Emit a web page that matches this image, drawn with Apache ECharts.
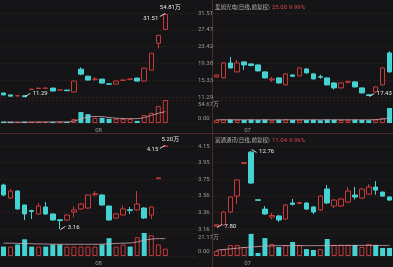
<!DOCTYPE html>
<html><head><meta charset="utf-8">
<script src="https://cdn.jsdelivr.net/npm/echarts@6/dist/echarts.min.js"></script>
<style>html,body{margin:0;padding:0;background:#151517;}#c{width:393px;height:267px;}</style>
</head><body><div id="c"></div>
<script>
// ---------- data ----------
const tlCats = ['','','','','','','','','','','','','','','08','','','','','','','','','','','','',''];
const trCats = ['','','','','','07','','','','','','','','','','','','','','','','','','','',''];
const blCats = ['','','','','','','','','','','','','','','08','','','','','','','','','','','','',''];
const brCats = ['','','','','','07','','','','','','','','','','','','','','','','','','','',''];

const tlTicks = ['11.29','15.33','19.38','23.42','27.47','31.51'];
const tlVolTicks = ['0.00','54.67万'];
const blTicks = ['3.16','3.36','3.56','3.75','3.95','4.15'];
const blVolTicks = ['0.00','21.17万'];

const trTitle = '爱旭光电(日线,前复权)', trPrice = '25.00', trPct = '9.99%';
const brTitle = '富通通讯(日线,前复权)', brPrice = '11.04', brPct = '9.96%';
const tlTopNote = '54.81万', blTopNote = '5.20万';

// [open, close, low, high]
const tlK = [
 [12.25,11.80,11.75,12.30],[11.80,11.50,11.45,11.85],[11.55,11.60,11.50,11.65],[11.60,11.35,11.29,11.65],
 [13.10,13.18,13.05,13.25],[13.35,13.42,13.30,13.50],[13.38,13.45,13.30,13.52],[13.44,12.72,12.70,13.48],
 [12.95,13.00,12.90,13.05],[12.96,12.80,12.75,13.00],[12.49,15.12,12.45,15.20],[17.99,16.79,16.55,18.40],
 [16.31,15.36,15.30,16.40],[15.55,15.62,15.12,16.08],[15.60,14.64,14.55,15.65],[14.45,14.38,14.30,14.50],
 [14.40,15.12,14.35,15.20],[15.30,15.38,15.25,15.45],[15.55,15.62,15.50,15.68],[15.84,15.12,15.10,15.90],
 [15.12,18.23,15.05,18.30],[17.75,21.82,17.70,21.90],[24.21,26.13,23.02,26.20],[27.56,31.15,27.50,31.51]
];
const tlVol = [3.5,3,2.5,3,2.5,3,3,2.5,3,2.5,9.5,26,21,12,12,10,10,10,10,5,19,24,40,54.67];
const tlVolMA = [2,2,2,2,2.2,2.3,2.4,2.5,2.5,2.6,4.8,9.5,14.3,15.5,15,13,11.5,10.5,10.2,10.5,13,18,23,27];

const trK = [
 [21.72,22.17,21.60,22.30],[21.50,24.87,21.40,25.00],[24.87,23.74,23.60,26.22],[22.85,24.87,22.70,25.54],
 [25.09,24.42,23.29,25.20],[24.64,24.30,24.10,24.75],[24.42,23.07,22.95,24.50],[22.85,21.50,21.40,22.95],
 [21.05,21.27,20.60,21.72],[21.50,20.37,20.20,21.60],[19.92,22.40,19.80,22.50],[22.17,21.85,21.75,22.25],
 [21.95,23.74,21.85,23.85],[23.52,22.62,22.50,23.65],[22.40,21.27,21.15,22.50],[21.78,21.66,21.30,22.20],
 [21.50,19.92,19.80,21.60],[20.37,19.25,18.90,20.50],[19.25,20.37,19.10,20.50],[20.55,20.65,20.30,20.90],
 [20.60,19.47,19.35,20.70],[19.25,18.12,18.00,19.35],[17.70,17.55,17.43,17.80],[18.35,19.47,18.20,19.60],
 [19.92,23.74,19.80,23.90],[27.12,22.85,22.70,27.50]
];
const trVol = [14,16,15,14,13,14,13,15,12,14,16,13,14,13,14,12,15,14,13,12,14,13,12,15,22,65];
const trVolMA = [14,14,14,14,14,14,14,14,14,14,14,14,14,14,14,14,14,14,14,14,14,14,14,15,17,22];

const blK = [
 [3.685,3.566,3.55,3.70],[3.530,3.613,3.52,3.637],[3.613,3.399,3.39,3.62],[3.446,3.339,3.267,3.45],
 [3.38,3.37,3.28,3.39],[3.339,3.434,3.33,3.470],[3.422,3.339,3.33,3.482],[3.339,3.267,3.26,3.345],
 [3.27,3.26,3.16,3.275],[3.267,3.327,3.26,3.335],[3.363,3.387,3.30,3.43],[3.399,3.458,3.39,3.47],
 [3.410,3.566,3.40,3.575],[3.57,3.58,3.55,3.613],[3.566,3.446,3.44,3.575],[3.434,3.267,3.26,3.44],
 [3.291,3.339,3.28,3.35],[3.327,3.399,3.32,3.44],[3.39,3.38,3.339,3.422],[3.387,3.458,3.38,3.613],
 [3.410,3.291,3.28,3.42],[3.327,3.422,3.279,3.43],[3.76,3.77,3.76,3.77],[4.145,4.15,4.145,4.15]
];
const blVol = [8.66,8.66,10.6,15.4,8.66,8.66,8.66,10.6,10.6,8.66,8.66,8.66,8.66,8.66,10.6,16.4,8.66,10.6,8.66,17.3,21.17,19.2,10.6,6.7];
const blVolMA = [11.8,11.8,11.6,11.5,11.3,11.1,11,10.9,10.8,10.8,10.8,10.8,10.8,10.8,10.9,11.2,11.5,11.8,12,13,14.5,15.5,16,16];

const brK = [
 [7.85,7.95,7.80,8.00],[7.93,8.78,7.90,8.85],[8.78,9.76,8.70,9.82],[9.82,10.87,9.30,10.90],
 [11.95,12.00,11.93,12.02],[12.69,10.67,10.60,12.76],[9.58,9.54,9.53,9.59],[8.97,8.65,8.60,9.17],
 [8.45,8.55,8.30,8.72],[8.52,8.26,8.13,8.60],[8.32,9.24,8.28,9.30],[9.37,9.28,9.20,9.63],
 [9.34,9.40,9.30,9.45],[9.37,8.97,8.92,9.40],[9.11,8.78,8.65,9.15],[8.91,9.82,8.85,9.88],
 [10.28,9.37,9.30,10.54],[9.17,9.56,9.04,9.62],[9.17,9.63,9.10,9.70],[9.43,10.15,9.40,10.41],
 [9.89,9.76,9.60,10.41],[9.69,10.28,9.65,10.33],[9.95,10.41,9.90,10.60],[10.41,10.21,9.90,10.80],
 [10.08,9.82,9.78,10.12],[9.76,9.56,9.50,9.80]
];
const brVol = [22,30,48,48,39,96,13,78,52,39,48,61,48,30,26,30,74,48,48,48,48,39,52,48,35,35];
const brVolMA = [25,28,31,34,37,39,41,43,44,45,45,45,45,45,45,45,46,46,46,46,46,46,46,46,46,46];

// ---------- style ----------
const BG = '#151517', RED = '#c93b3b', CYAN = '#45d2d2', GRID = 'rgba(150,70,60,0.35)';
const LBL = '#9a9a9a', FONT = "Roboto, 'Noto Sans CJK SC', sans-serif";
const CJK = "'Noto Sans CJK SC', sans-serif";

const panels = [
 {cats: tlCats, k: tlK, vol: tlVol, ma: tlVolMA, left: 0, width: 197, top: 13, h: 84, vtop: 100, vh: 23, pmin: 11.29, pmax: 31.51, vmax: 54.67, ticks: tlTicks, vticks: tlVolTicks},
 {cats: trCats, k: trK, vol: trVol, ma: trVolMA, left: 213, width: 182, top: 13, h: 84, vtop: 100, vh: 23, pmin: 17.2, pmax: 36.1, vmax: 100},
 {cats: blCats, k: blK, vol: blVol, ma: blVolMA, left: 0, width: 197, top: 146, h: 83, vtop: 233, vh: 23, pmin: 3.16, pmax: 4.15, vmax: 21.17, ticks: blTicks, vticks: blVolTicks},
 {cats: brCats, k: brK, vol: brVol, ma: brVolMA, left: 213, width: 182, top: 146, h: 83, vtop: 233, vh: 23, pmin: 7.67, pmax: 13.09, vmax: 100}
];

const grid = [], xAxis = [], yAxis = [], series = [];
panels.forEach((p, pi) => {
  const gP = grid.length; grid.push({left: p.left, width: p.width, top: p.top, height: p.h});
  const gV = grid.length; grid.push({left: p.left, width: p.width, top: p.vtop, height: p.vh});
  const xP = xAxis.length;
  xAxis.push({type:'category', gridIndex:gP, data:p.cats, boundaryGap:true, show:false});
  const xV = xAxis.length;
  xAxis.push({type:'category', gridIndex:gV, data:p.cats, boundaryGap:true,
    axisLine:{show:false}, axisTick:{show:false},
    axisLabel:{interval:0, margin:4, color:LBL, fontSize:6, fontFamily:FONT,
      formatter: v => v ? '{m|' + v + '}' : '',
      rich:{m:{padding:[0,7,0,0], color:LBL, fontSize:6, fontFamily:FONT}}}});
  const yP = yAxis.length;
  yAxis.push({type:'value', gridIndex:gP, min:p.pmin, max:p.pmax, show:false, splitLine:{show:false}});
  yAxis.push({type:'value', gridIndex:gP, min:0, max:5, interval:1, position:'right',
    axisLine:{show:false}, axisTick:{show:false},
    splitLine:{show:true, lineStyle:{color:GRID, type:[2,2], width:0.6}},
    axisLabel:{show: !!p.ticks, margin:1, color:LBL, fontSize:6, fontFamily:FONT,
      formatter: v => p.ticks ? p.ticks[v] : ''}});
  const yV = yAxis.length;
  yAxis.push({type:'value', gridIndex:gV, min:0, max:p.vmax, show:false, splitLine:{show:false}});
  yAxis.push({type:'value', gridIndex:gV, min:0, max:1, interval:1, position:'right',
    axisLine:{show:false}, axisTick:{show:false},
    splitLine:{show:true, lineStyle:{color:GRID, type:[2,2], width:0.6}},
    axisLabel:{show: !!p.vticks, margin:1, color:LBL, fontSize:6, fontFamily:FONT,
      formatter: v => !p.vticks ? '' : (v === 1 ? '{t|' + p.vticks[1] + '}' : '{b|' + p.vticks[0] + '}'),
      rich:{t:{padding:[8,0,0,0], color:LBL, fontSize:6, fontFamily:FONT},
            b:{padding:[0,0,10,0], color:LBL, fontSize:6, fontFamily:FONT}}}});

  // annotations
  let hi = 0, lo = 0;
  p.k.forEach((d, i) => { if (d[3] > p.k[hi][3]) hi = i; if (d[2] < p.k[lo][2]) lo = i; });
  const mp = [];
  const lab = (pos, off) => ({show:true, position:pos, offset:off, color:'#e8e8e8', fontSize:6, fontFamily:FONT, formatter:'{c}'});
  const arrow = (off, path) => ({symbol: path, symbolSize:[5,3], symbolOffset: off, itemStyle:{color:'rgba(0,0,0,0)', borderColor:'#e8e8e8', borderWidth:0.8}});
  if (pi === 0) {
    mp.push({coord:[hi, p.k[hi][3]], value: p.k[hi][3].toFixed(2), label: lab('left', [-2, 5]), symbolSize:0});
    mp.push(Object.assign({coord:[hi, p.k[hi][3]], value:''}, arrow([-3, 2], 'path://M0,4 L8,0')));
    mp.push({coord:[hi, p.k[hi][3]], value: tlTopNote, label: lab('top', [5, 3]), symbolSize:0});
    mp.push({coord:[lo, p.k[lo][2]], value: p.k[lo][2].toFixed(2), label: lab('right', [3, -4]), symbolSize:0});
    mp.push(Object.assign({coord:[lo, p.k[lo][2]], value:''}, arrow([3, -2], 'path://M0,4 L8,0')));
  } else if (pi === 2) {
    mp.push({coord:[hi, p.k[hi][3]], value: p.k[hi][3].toFixed(2), label: lab('left', [-2, 3]), symbolSize:0});
    mp.push(Object.assign({coord:[hi, p.k[hi][3]], value:''}, arrow([-3, 1], 'path://M0,4 L8,0')));
    mp.push({coord:[hi, p.k[hi][3]], value: blTopNote, label: lab('top', [5, 2]), symbolSize:0});
    mp.push({coord:[lo, p.k[lo][2]], value: p.k[lo][2].toFixed(2), label: lab('right', [3, -2]), symbolSize:0});
    mp.push(Object.assign({coord:[lo, p.k[lo][2]], value:''}, arrow([3, -1], 'path://M0,4 L8,0')));
  } else if (pi === 1) {
    mp.push({coord:[lo, p.k[lo][2]], value: p.k[lo][2].toFixed(2), label: lab('right', [3, -2]), symbolSize:0});
    mp.push(Object.assign({coord:[lo, p.k[lo][2]], value:''}, arrow([3, -1], 'path://M0,4 L8,0')));
  } else {
    mp.push({coord:[hi, p.k[hi][3]], value: p.k[hi][3].toFixed(2), label: lab('right', [3, 0]), symbolSize:0});
    mp.push(Object.assign({coord:[hi, p.k[hi][3]], value:''}, arrow([3, 0], 'path://M0,0 L8,4')));
    mp.push({coord:[lo, p.k[lo][2]], value: p.k[lo][2].toFixed(2), label: lab('right', [3, -1]), symbolSize:0});
    mp.push(Object.assign({coord:[lo, p.k[lo][2]], value:''}, arrow([3, -1], 'path://M0,4 L8,0')));
  }

  series.push({type:'candlestick', xAxisIndex:xP, yAxisIndex:yP, data:p.k, barWidth:5,
    itemStyle:{color:BG, color0:CYAN, borderColor:RED, borderColor0:CYAN, borderWidth:1},
    markPoint:{silent:true, animation:false, label:{show:false}, data: mp}});
  series.push({type:'bar', xAxisIndex:xV, yAxisIndex:yV, barWidth:5,
    data: p.vol.map((v, i) => {
      const up = p.k[i][1] >= p.k[i][0];
      return {value:v, itemStyle: up ? {color:BG, borderColor:RED, borderWidth:1} : {color:CYAN}};
    })});
  series.push({type:'line', xAxisIndex:xV, yAxisIndex:yV, data:p.ma, smooth:true, symbol:'none',
    lineStyle:{color:'#dba8b4', width:0.8}});
});

const chart = echarts.init(document.getElementById('c'), null, {renderer:'canvas'});
chart.setOption({
  backgroundColor: BG, animation:false,
  grid, xAxis, yAxis, series,
  graphic: [
    {type:'line', shape:{x1:0, y1:133.5, x2:393, y2:133.5}, style:{stroke:'#4d2c26', lineWidth:1}},
    {type:'line', shape:{x1:212.5, y1:0, x2:212.5, y2:267}, style:{stroke:'#4d2c26', lineWidth:1}},
    {type:'text', left:215, top:4, style:{text:trTitle, fill:'#b5b5b5', font:'5.5px ' + CJK}},
    {type:'text', left:272, top:4, style:{text:trPrice, fill:'#d84545', font:'6px ' + FONT}},
    {type:'text', left:289, top:4, style:{text:trPct, fill:'#d84545', font:'6px ' + FONT}},
    {type:'text', left:215, top:137, style:{text:brTitle, fill:'#b5b5b5', font:'5.5px ' + CJK}},
    {type:'text', left:272, top:137, style:{text:brPrice, fill:'#d84545', font:'6px ' + FONT}},
    {type:'text', left:289, top:137, style:{text:brPct, fill:'#d84545', font:'6px ' + FONT}}
  ]
});
</script></body></html>
